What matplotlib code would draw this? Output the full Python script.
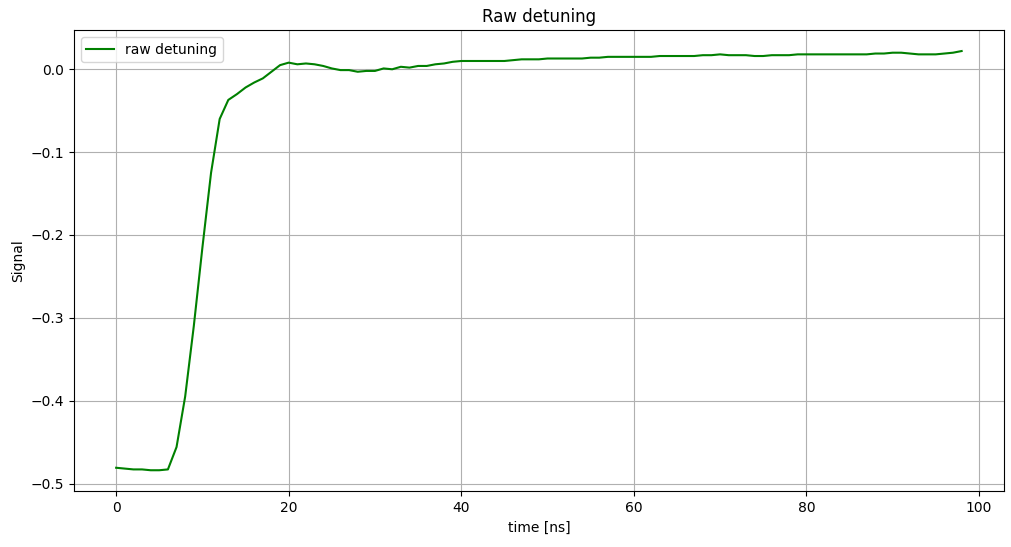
import matplotlib
matplotlib.use("Agg")
import matplotlib.pyplot as plt
import numpy as np

time_ns = list(range(0, 99))
signal = [
    -0.481, -0.482, -0.483, -0.483, -0.484, -0.484, -0.483, -0.456, -0.395, -0.31,
    -0.215, -0.125, -0.060, -0.037, -0.030, -0.022, -0.016, -0.011, -0.003, 0.005,
    0.008, 0.006, 0.007, 0.006, 0.004, 0.001, -0.001, -0.001, -0.003, -0.002,
    -0.002, 0.001, 0.000, 0.003, 0.002, 0.004, 0.004, 0.006, 0.007, 0.009,
    0.010, 0.010, 0.010, 0.010, 0.010, 0.010, 0.011, 0.012, 0.012, 0.012,
    0.013, 0.013, 0.013, 0.013, 0.013, 0.014, 0.014, 0.015, 0.015, 0.015,
    0.015, 0.015, 0.015, 0.016, 0.016, 0.016, 0.016, 0.016, 0.017, 0.017,
    0.018, 0.017, 0.017, 0.017, 0.016, 0.016, 0.017, 0.017, 0.017, 0.018,
    0.018, 0.018, 0.018, 0.018, 0.018, 0.018, 0.018, 0.018, 0.019, 0.019,
    0.020, 0.020, 0.019, 0.018, 0.018, 0.018, 0.019, 0.020, 0.022,
]

fig = plt.figure(figsize=(10.12, 5.47), dpi=100)
ax = fig.add_axes([0.073, 0.102, 0.919, 0.843])
ax.plot(time_ns, signal, color="green", label="raw detuning")
ax.set_title("Raw detuning")
ax.set_xlabel("time [ns]")
ax.set_ylabel("Signal")
ax.grid(True)
ax.legend(loc="upper left")
fig.savefig("out.png", dpi=100)
